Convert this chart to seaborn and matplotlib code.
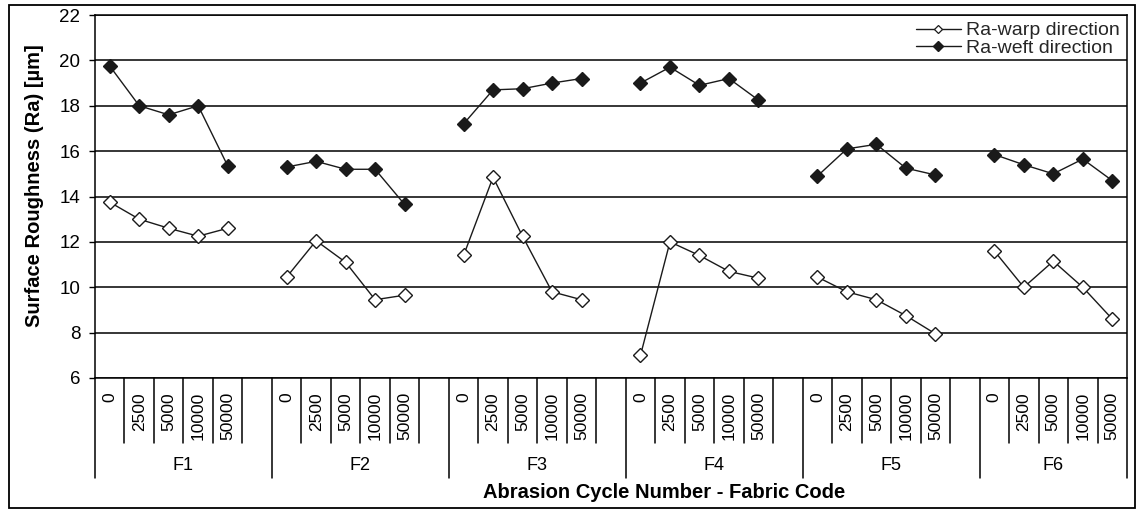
import matplotlib
matplotlib.use("Agg")
import matplotlib.pyplot as plt
import seaborn as sns
import pandas as pd
from matplotlib.lines import Line2D
from matplotlib.patches import Rectangle

# ---- data -------------------------------------------------------------
fabrics = ["F1", "F2", "F3", "F4", "F5", "F6"]
cycles = ["0", "2500", "5000", "10000", "50000"]

ra_warp = [
    [13.75, 13.0, 12.6, 12.25, 12.6],
    [10.45, 12.05, 11.1, 9.45, 9.65],
    [11.4, 14.85, 12.25, 9.8, 9.45],
    [7.0, 12.0, 11.4, 10.7, 10.4],
    [10.45, 9.8, 9.45, 8.75, 7.95],
    [11.6, 10.0, 11.15, 10.0, 8.6],
]
ra_weft = [
    [19.75, 18.0, 17.6, 18.0, 15.35],
    [15.3, 15.55, 15.2, 15.2, 13.65],
    [17.2, 18.7, 18.75, 19.0, 19.2],
    [19.0, 19.7, 18.9, 19.2, 18.25],
    [14.9, 16.1, 16.3, 15.25, 14.95],
    [15.85, 15.4, 15.0, 15.65, 14.7],
]
series_names = ["Ra-warp direction", "Ra-weft direction"]

y_ticks = list(range(6, 23, 2))

# ---- long-form table: each fabric takes 5 slots plus one empty slot ----
slots_per_group = len(cycles) + 1
rows = []
for name, table in zip(series_names, [ra_warp, ra_weft]):
    for g, fab in enumerate(fabrics):
        for c, cyc in enumerate(cycles):
            rows.append({"direction": name, "fabric": fab, "cycle": cyc,
                         "pos": g * slots_per_group + c,
                         "value": table[g][c]})
df = pd.DataFrame(rows)
n_slots = slots_per_group * len(fabrics) - 1

# ---- figure -----------------------------------------------------------
W, H = 1141, 513
sns.set_theme(style="white")
plt.rcParams["font.family"] = ["Liberation Sans", "DejaVu Sans"]

fig = plt.figure(figsize=(W / 100, H / 100), dpi=100)
fig.patch.set_facecolor("white")
ax = fig.add_axes([95 / W, 1 - 378 / H, (1127 - 95) / W, (378 - 15) / H])

ink = "#1a1a1a"
styles = {
    "Ra-warp direction": dict(markerfacecolor="white"),
    "Ra-weft direction": dict(markerfacecolor=ink),
}
for name in series_names:
    sns.lineplot(data=df[df["direction"] == name], x="pos", y="value",
                 units="fabric", estimator=None, color=ink, linewidth=1.0,
                 marker="D", markersize=7.5, markeredgecolor=ink,
                 markeredgewidth=1.0, legend=False, ax=ax, zorder=3,
                 **styles[name])

# y axis
ax.set_ylim(6, 22)
ax.set_yticks(y_ticks)
ax.set_yticklabels([str(t) for t in y_ticks])
ax.yaxis.grid(True, color="black", linewidth=1.1)
ax.set_axisbelow(True)
ax.tick_params(axis="y", left=True, length=4.5, width=1.0, color="black",
               direction="out", pad=6, labelsize=13.5, labelcolor="black")

# x axis: category labels at slot centres, separators drawn at boundaries
ax.set_xlim(-0.5, n_slots - 0.5)
label_pos = []
label_txt = []
for g in range(len(fabrics)):
    for c, cyc in enumerate(cycles):
        label_pos.append(g * slots_per_group + c)
        label_txt.append(cyc)
ax.set_xticks(label_pos)
ax.set_xticklabels(label_txt, rotation=90, va="top", ha="center")
ax.tick_params(axis="x", length=0, pad=10, labelsize=12.5, labelcolor="black")
ax.set_xlabel("")
ax.set_ylabel("")

for sp in ax.spines.values():
    sp.set_color("black")
    sp.set_linewidth(1.1)

axis_h = 378 - 15
short_depth = (443 - 378) / axis_h
long_depth = (478 - 378) / axis_h
xt = ax.get_xaxis_transform()
for k in range(0, n_slots + 1):
    xb = k - 0.5
    is_long = (k % slots_per_group == 0) or k == n_slots
    depth = long_depth if is_long else short_depth
    ax.plot([xb, xb], [0, -depth], transform=xt, clip_on=False,
            color="black", linewidth=1.1)

group_y = -(465 - 378) / axis_h
for g, fab in enumerate(fabrics):
    first = g * slots_per_group - 0.5
    last = min((g + 1) * slots_per_group, n_slots) - 0.5
    ax.text((first + last) / 2, group_y, fab, transform=xt, ha="center",
            va="center", fontsize=13, color="black")

# legend
handles = [
    Line2D([], [], color=ink, linewidth=1.0, marker="D", markersize=4,
           markerfacecolor="white", markeredgecolor=ink, markeredgewidth=0.9),
    Line2D([], [], color=ink, linewidth=1.0, marker="D", markersize=5,
           markerfacecolor=ink, markeredgecolor=ink),
]
ax.legend(handles, series_names, loc="upper right", frameon=False,
          fontsize=14, handlelength=2.3, handletextpad=0.3,
          labelspacing=0.0, borderaxespad=0.2, borderpad=0.15)

# axis titles
fig.text(35 / W, 1 - 186 / H, "Surface Roughness (Ra) [µm]", rotation=90,
         ha="center", va="center", fontsize=14.5, fontweight="bold",
         color="black")
fig.text(664 / W, 1 - 492 / H, "Abrasion Cycle Number - Fabric Code",
         ha="center", va="center", fontsize=14.5, fontweight="bold",
         color="black")

# chart frame
fig.add_artist(Rectangle((9 / W, 1 - 508 / H), (1135 - 9) / W, (508 - 5) / H,
                         transform=fig.transFigure, fill=False,
                         edgecolor="black", linewidth=1.3))

fig.savefig("out.png", dpi=100)
